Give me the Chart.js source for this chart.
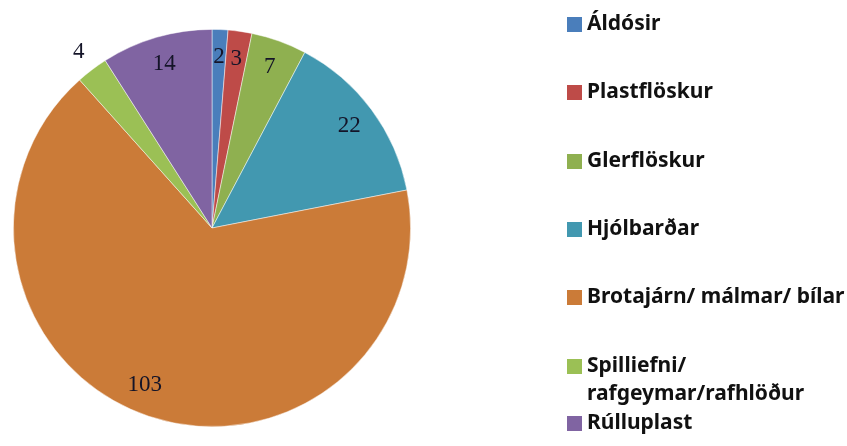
<!DOCTYPE html>
<html>
<head>
<meta charset="utf-8">
<script src="https://cdn.jsdelivr.net/npm/chart.js@4/dist/chart.umd.min.js"></script>
<style>
  html, body { margin: 0; padding: 0; background: #fff; }
  #wrap { position: relative; width: 847px; height: 446px; }
</style>
</head>
<body>
<div id="wrap"><canvas id="pieChart" width="847" height="446"></canvas></div>
<script>
const categories = [
    "Áldósir",
    "Plastflöskur",
    "Glerflöskur",
    "Hjólbarðar",
    "Brotajárn/ málmar/ bílar",
    "Spilliefni/\nrafgeymar/rafhlöður",
    "Rúlluplast"
];
const values = [2, 3, 7, 22, 103, 4, 14];
const colors = ["#4A7EBB", "#BE4B48", "#8FB050", "#4298B0", "#CB7B38", "#9BC055", "#8064A2"];

// Gildi á sneiðum, "4" fer út fyrir kökuna
const valueLabels = {
    id: "valueLabels",
    afterDatasetsDraw(chart) {
        const ctx = chart.ctx;
        const arcs = chart.getDatasetMeta(0).data;
        ctx.save();
        ctx.font = "23px 'Liberation Serif', 'DejaVu Serif', serif";
        ctx.fillStyle = "#141428";
        ctx.textAlign = "center";
        ctx.textBaseline = "middle";
        arcs.forEach((arc, i) => {
            const p = arc.getProps(["x", "y", "startAngle", "endAngle", "outerRadius"], true);
            let mid = (p.startAngle + p.endAngle) / 2;
            if (i === 4) mid += 0.08;
            const r = i === 5 ? p.outerRadius * 1.11 : p.outerRadius * 0.86;
            ctx.fillText(String(values[i]), p.x + Math.cos(mid) * r, p.y + Math.sin(mid) * r);
        });
        ctx.restore();
    }
};

// Skýringar til hægri
const sideLegend = {
    id: "sideLegend",
    afterDraw(chart) {
        const ctx = chart.ctx;
        const x0 = 567;
        const rowY = [24, 92, 161, 229, 297, 366, 423];
        ctx.save();
        ctx.font = "bold 21px 'Noto Sans', 'DejaVu Sans', sans-serif";
        ctx.textBaseline = "middle";
        categories.forEach((name, i) => {
            ctx.fillStyle = colors[i];
            ctx.fillRect(x0, rowY[i] - 7, 15, 15);
            ctx.fillStyle = "#111";
            name.split("\n").forEach((line, k) => {
                ctx.fillText(line, x0 + 20, rowY[i] + k * 28);
            });
        });
        ctx.restore();
    }
};

new Chart(document.getElementById("pieChart"), {
    type: "pie",
    data: {
        labels: categories,
        datasets: [{
            data: values,
            backgroundColor: colors,
            borderColor: "rgba(255,255,255,0.6)",
            borderWidth: 0.8
        }]
    },
    options: {
        responsive: false,
        animation: false,
        layout: {
            padding: { left: 13, top: 28, bottom: 18, right: 436 }
        },
        plugins: {
            legend: { display: false },
            tooltip: { enabled: false }
        }
    },
    plugins: [valueLabels, sideLegend]
});
</script>
</body>
</html>
